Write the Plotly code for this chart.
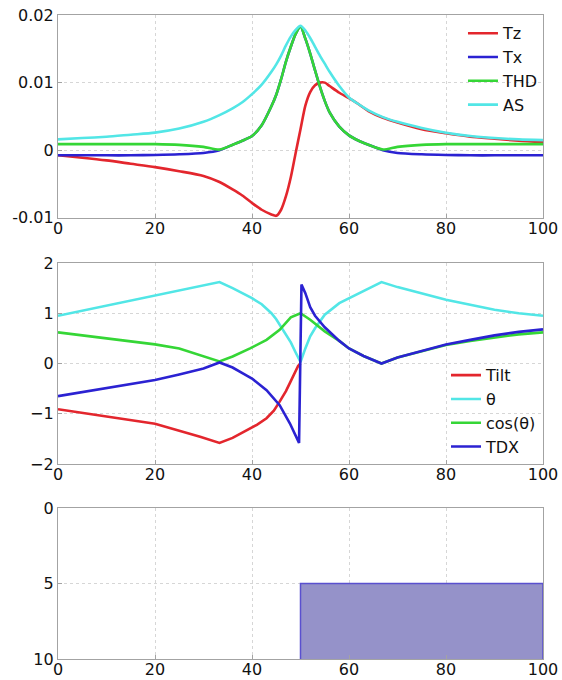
import plotly.graph_objects as go

# ---------------- Panel 1 data ----------------
x1 = [0, 5, 10, 15, 20, 25, 30, 33.3, 36, 38, 40, 42, 44, 45, 46, 47, 48, 49, 50,
      51, 52, 53, 54, 55, 56, 58, 60, 62, 64, 67, 70, 75, 80, 85, 90, 95, 100]
tz = [-0.00075, -0.0011, -0.0015, -0.0020, -0.0025, -0.0031, -0.0038, -0.0047, -0.0058,
      -0.0067, -0.0078, -0.0088, -0.0095, -0.0097, -0.0088, -0.0068, -0.0040, -0.0004,
      0.0031, 0.0066, 0.0086, 0.0096, 0.0100, 0.0100, 0.0095, 0.0085, 0.0077, 0.0068,
      0.0058, 0.0048, 0.0041, 0.0031, 0.0025, 0.0020, 0.0017, 0.0014, 0.0012]
thd = [0.0009, 0.0009, 0.0009, 0.0009, 0.0009, 0.0008, 0.0005, 0.0001, 0.0008, 0.0014,
       0.0021, 0.0037, 0.0065, 0.0082, 0.0105, 0.0131, 0.0153, 0.0172, 0.0183, 0.0165,
       0.0143, 0.0118, 0.0094, 0.0073, 0.0056, 0.0035, 0.0022, 0.0014, 0.0008, 0.0001,
       0.0005, 0.0008, 0.0009, 0.0009, 0.0009, 0.0009, 0.0009]
tx = [-0.00075, -0.00075, -0.00075, -0.00075, -0.0007, -0.0006, -0.0004, 0.0, 0.0008,
      0.0014, 0.0021, 0.0037, 0.0065, 0.0082, 0.0105, 0.0131, 0.0153, 0.0172, 0.0183,
      0.0165, 0.0143, 0.0118, 0.0094, 0.0073, 0.0056, 0.0035, 0.0022, 0.0014, 0.0008,
      0.0, -0.0004, -0.0006, -0.0007, -0.00075, -0.00075, -0.00075, -0.00075]
as_ = [0.0016, 0.0018, 0.0020, 0.0023, 0.0026, 0.0032, 0.0042, 0.0052, 0.0062, 0.0071,
       0.0083, 0.0097, 0.0116, 0.0127, 0.0140, 0.0155, 0.0168, 0.0178, 0.0184, 0.0177,
       0.0166, 0.0153, 0.0140, 0.0128, 0.0116, 0.0095, 0.0078, 0.0068, 0.0059, 0.0049,
       0.0042, 0.0033, 0.0026, 0.0021, 0.0018, 0.0016, 0.0015]

# ---------------- Panel 2 data ----------------
x_tilt = [0, 10, 20, 29.3, 33.3, 36, 38.2, 41, 43, 44.5, 45.7, 47, 47.8, 49, 49.5, 50]
tilt = [-0.91, -1.05, -1.20, -1.46, -1.58, -1.48, -1.37, -1.22, -1.09, -0.94, -0.76,
        -0.55, -0.39, -0.15, -0.05, 0.0]

x_theta = [0, 10, 20, 30, 33.3, 36, 40, 42, 44, 45, 46, 47, 48, 49, 50, 51, 52, 53,
           55, 58, 60, 63, 66.7, 70, 75, 80, 85, 90, 95, 100]
theta = [0.95, 1.15, 1.35, 1.55, 1.62, 1.50, 1.30, 1.18, 1.00, 0.88, 0.72, 0.58, 0.42,
         0.22, 0.03, 0.30, 0.54, 0.70, 0.97, 1.20, 1.30, 1.45, 1.62, 1.52, 1.40, 1.27,
         1.17, 1.07, 1.00, 0.95]

x_cos = [0, 10, 20, 25, 30, 33.3, 36, 39.6, 43, 45.7, 48, 50, 52, 55, 58, 60, 63, 66.7,
         70, 75, 80, 85, 90, 95, 100]
cos_theta = [0.62, 0.50, 0.38, 0.30, 0.15, 0.04, 0.14, 0.30, 0.47, 0.67, 0.92, 1.00,
             0.87, 0.64, 0.45, 0.30, 0.15, 0.0, 0.12, 0.25, 0.37, 0.45, 0.52, 0.58, 0.62]

x_tdx = [0, 5, 10, 15, 20, 25, 30, 33.3, 36, 38.2, 40, 43, 45.7, 47.8, 49.7, 50.2, 51,
         52, 53, 55, 58, 60, 63, 66.7, 70, 75, 80, 85, 90, 95, 100]
tdx = [-0.65, -0.57, -0.48, -0.40, -0.33, -0.22, -0.10, 0.02, -0.08, -0.20, -0.30, -0.53,
       -0.83, -1.19, -1.58, 1.57, 1.40, 1.12, 0.95, 0.72, 0.45, 0.30, 0.15, 0.0, 0.12,
       0.25, 0.38, 0.47, 0.56, 0.63, 0.68]

# ---------------- Panel 3 data ----------------
body_x = [50, 100]
body_top = [5, 5]
depth_bottom = 10

x_ticks = [0, 20, 40, 60, 80, 100]
y1_ticks = [-0.01, 0, 0.01, 0.02]
y1_labels = ["-0.01", "0", "0.01", "0.02"]
y2_ticks = [-2, -1, 0, 1, 2]
y3_ticks = [0, 5, 10]

RED = "#e3262d"
BLUE = "#2b22d2"
GREEN = "#35d636"
CYAN = "#52e6e6"
LW = 2.6
FONT = "DejaVu Sans"

fig = go.Figure()

def line(x, y, name, color, xa, ya, legend, shape="linear"):
    fig.add_trace(go.Scatter(x=x, y=y, name=name, mode="lines",
                             line=dict(color=color, width=LW, shape=shape, smoothing=0.7),
                             xaxis=xa, yaxis=ya, legend=legend))

line(x1, tz, "Tz", RED, "x", "y", "legend", "spline")
line(x1, tx, "Tx", BLUE, "x", "y", "legend", "spline")
line(x1, thd, "THD", GREEN, "x", "y", "legend", "spline")
line(x1, as_, "AS", CYAN, "x", "y", "legend", "spline")

line(x_tilt, tilt, "Tilt", RED, "x2", "y2", "legend2")
line(x_theta, theta, "θ", CYAN, "x2", "y2", "legend2")
line(x_cos, cos_theta, "cos(θ)", GREEN, "x2", "y2", "legend2")
line(x_tdx, tdx, "TDX", BLUE, "x2", "y2", "legend2")

poly_x = [body_x[0]] + body_x + [body_x[-1]]
poly_y = [depth_bottom] + body_top + [depth_bottom]
fig.add_trace(go.Scatter(x=poly_x, y=poly_y, mode="lines", fill="toself",
                         fillcolor="#9592c9", line=dict(color="#5a50cf", width=1.5),
                         xaxis="x3", yaxis="y3", showlegend=False))

axis_common = dict(showline=True, mirror=True, linecolor="#a3a3a3", linewidth=1.2,
                   ticks="inside", ticklen=4, tickcolor="#a3a3a3", automargin=False,
                   showgrid=True, gridcolor="#d6d6d6", griddash="dot", gridwidth=1,
                   zeroline=False, tickfont=dict(family=FONT, size=16, color="#111"))

xcommon = dict(axis_common, range=[0, 100], tickvals=x_ticks, ticklabelstandoff=-4)

fig.update_layout(
    width=562, height=680,
    margin=dict(l=58, r=19, t=15, b=21),
    plot_bgcolor="white", paper_bgcolor="white",
    font=dict(family=FONT, size=16, color="#111"),
    xaxis=dict(xcommon, anchor="y", domain=[0, 1]),
    yaxis=dict(axis_common, anchor="x", domain=[0.685, 1.0], range=[-0.01, 0.02],
               tickvals=y1_ticks, ticktext=y1_labels),
    xaxis2=dict(xcommon, anchor="y2", domain=[0, 1]),
    yaxis2=dict(axis_common, anchor="x2", domain=[0.3028, 0.6149], range=[-2, 2],
                tickvals=y2_ticks),
    xaxis3=dict(xcommon, anchor="y3", domain=[0, 1]),
    yaxis3=dict(axis_common, anchor="x3", domain=[0.0, 0.2345], range=[10, 0],
                tickvals=y3_ticks),
    legend=dict(x=0.835, y=0.998, xanchor="left", yanchor="top",
                bgcolor="rgba(0,0,0,0)", borderwidth=0,
                font=dict(family=FONT, size=16, color="#111")),
    legend2=dict(x=0.80, y=0.467, xanchor="left", yanchor="top",
                 bgcolor="rgba(0,0,0,0)", borderwidth=0,
                 font=dict(family=FONT, size=16, color="#111")),
)

# remove the browser's default 8px page margin so the figure fills the window exactly
page_fix = ("document.body.style.margin='0';document.body.style.padding='0';"
            "document.documentElement.style.overflow='hidden';")
fig.write_html("out.html", post_script=page_fix, config={"displayModeBar": False})
